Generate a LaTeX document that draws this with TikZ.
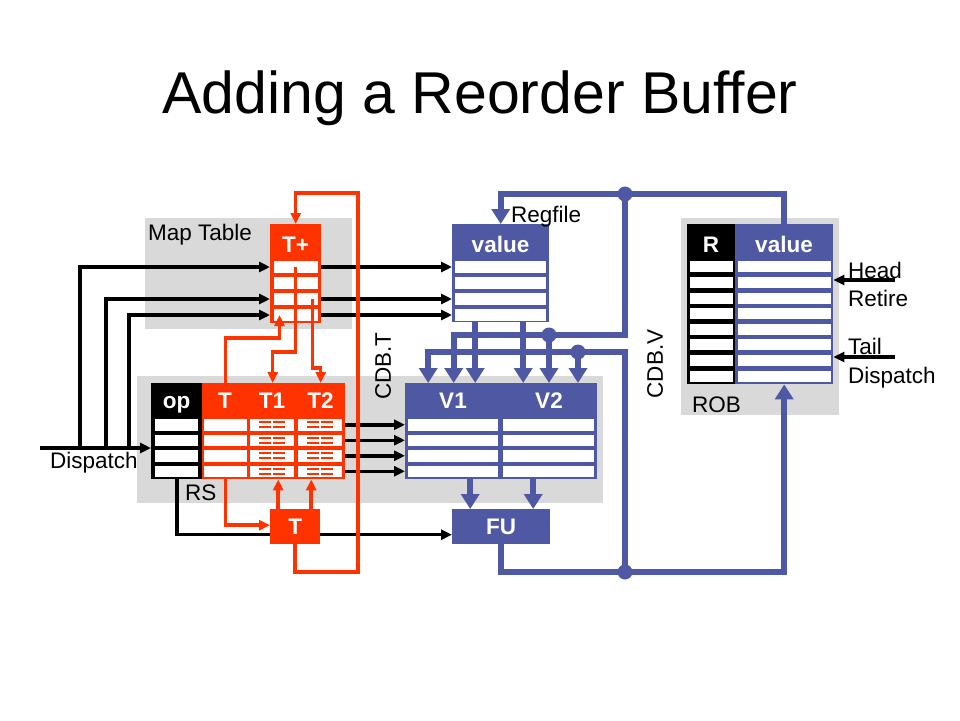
\documentclass[tikz,border=0pt]{standalone}
\usepackage{fontspec}
\setmainfont{Liberation Sans}
\usetikzlibrary{positioning,arrows.meta}

\definecolor{bggray}{RGB}{217,217,217}
\definecolor{cdbred}{RGB}{255,51,0}
\definecolor{cdbblue}{RGB}{79,89,163}

\begin{document}
\begin{tikzpicture}[
  x=1pt, y=-1pt,
  bgbox/.style={fill=bggray, inner sep=0pt, anchor=north west},
  tbl/.style={inner sep=0pt, anchor=north west, text=white, font=\fontsize{22.5}{24}\selectfont\bfseries},
  cell/.style={fill=white, inner sep=0pt, minimum height=11.5pt},
  hdr/.style={text=white, anchor=base, inner sep=0pt, font=\fontsize{22.5}{24}\selectfont\bfseries},
  lbl/.style={inner sep=0pt, anchor=base west, font=\fontsize{22.5}{24}\selectfont},
  wire/.style={line width=3.5pt},
  wirearr/.style={wire, -{Triangle[length=11pt,width=10pt]}},
  tagwire/.style={draw=cdbred, line width=3.5pt},
  tagarr/.style={tagwire, -{Triangle[length=11pt,width=10pt]}},
  tagmark/.style={draw=cdbred, line width=2pt, dash pattern=on 12pt off 2pt},
  bus/.style={draw=cdbblue, line width=6pt},
  busarr/.style={bus, -{Triangle[length=15pt,width=18pt]}},
  dot/.style={circle, fill=cdbblue, inner sep=0pt, minimum size=15pt},
]
\useasboundingbox (0,0) rectangle (960,720);

\node[font=\fontsize{59}{70}\selectfont, anchor=base] (title) at (480,113) {Adding a Reorder Buffer};

% grey panels
\node[bgbox, minimum width=207pt, minimum height=111pt] (mtbg) at (145,218) {};
\node[bgbox, minimum width=466pt, minimum height=127pt] (rsbg) at (137,376) {};
\node[bgbox, minimum width=158pt, minimum height=197pt] (robbg) at (681,218) {};

% map table
\node[tbl, fill=cdbred, minimum width=51pt, minimum height=99pt] (mt) at (270,224) {};
\node[hdr] at (295.5,252) {T+};
\foreach \i in {1,...,4}
  \node[cell, minimum width=44pt] (mt-\i) at (295.5,251+16*\i) {};

% regfile
\node[tbl, fill=cdbblue, minimum width=97pt, minimum height=98pt] (rf) at (452,224) {};
\node[hdr] at (500.5,252) {value};
\foreach \i in {1,...,4}
  \node[cell, minimum width=91pt] (rf-\i) at (500.5,251+16*\i) {};

% reservation stations
\node[tbl, fill=black, minimum width=52pt, minimum height=96pt] (rsop) at (151,383) {};
\node[tbl, fill=cdbred, minimum width=47pt, minimum height=96pt] (rstag) at (202,383) {};
\node[tbl, fill=cdbred, minimum width=49pt, minimum height=96pt] (rsta) at (248,383) {};
\node[tbl, fill=cdbred, minimum width=49pt, minimum height=96pt] (rstb) at (296,383) {};
\node[hdr] at (176.5,408.5) {op};
\node[hdr] at (225,408.5) {T};
\node[hdr] at (272,408.5) {T1};
\node[hdr] at (320.5,408.5) {T2};
\node[tbl, fill=cdbblue, minimum width=97pt, minimum height=96pt] (vv1) at (405,383) {};
\node[tbl, fill=cdbblue, minimum width=96pt, minimum height=96pt] (vv2) at (501,383) {};
\node[hdr] at (453,408.5) {V1};
\node[hdr] at (549,408.5) {V2};
\foreach \i in {1,...,4} {
  \node[cell, minimum width=43pt] (rsop-\i) at (176.5,409.25+15.5*\i) {};
  \node[cell, minimum width=43pt] (rstag-\i) at (225,409.25+15.5*\i) {};
  \node[cell, minimum width=44pt] (rsta-\i) at (271.5,409.25+15.5*\i) {};
  \node[cell, minimum width=44pt] (rstb-\i) at (320,409.25+15.5*\i) {};
  \node[cell, minimum width=90pt] (vv1-\i) at (453,409.25+15.5*\i) {};
  \node[cell, minimum width=91pt] (vv2-\i) at (548.5,409.25+15.5*\i) {};
}
\foreach \c in {rsta,rstb}
  \foreach \i in {1,...,4} {
    \draw[tagmark] ([xshift=-13pt,yshift=2.5pt]\c-\i.center) -- ([xshift=13pt,yshift=2.5pt]\c-\i.center);
    \draw[tagmark] ([xshift=-13pt,yshift=-2.5pt]\c-\i.center) -- ([xshift=13pt,yshift=-2.5pt]\c-\i.center);
  }

% ROB
\node[tbl, fill=black, minimum width=49pt, minimum height=160pt] (robr) at (687,224) {};
\node[tbl, fill=cdbblue, minimum width=98pt, minimum height=160pt] (robv) at (735,224) {};
\node[hdr] at (711,252) {R};
\node[hdr] at (784,252) {value};
\foreach \i in {1,...,8} {
  \node[cell, minimum width=43pt, minimum height=11pt] (robr-\i) at (711,251.2+15.625*\i) {};
  \node[cell, minimum width=93pt, minimum height=11pt] (robv-\i) at (784,251.2+15.625*\i) {};
}

% tag unit and FU
\node[tbl, fill=cdbred, minimum width=50pt, minimum height=35pt] (tagbox) at (270,509) {T};
\node[tbl, fill=cdbblue, minimum width=98pt, minimum height=35pt] (fu) at (452,509) {FU};

% dispatch wires
\coordinate (dispin) at (40,448);
\coordinate (dspa) at (80,448);
\coordinate (dspb) at (106,448);
\coordinate (dspc) at (129,448);
\draw[wirearr] (dispin) -- (rsop.west |- dispin);
\draw[wirearr] (dspa) |- (mt.west |- mt-1);
\draw[wirearr] (dspb) |- (mt.west |- mt-3);
\draw[wirearr] (dspc) |- (mt.west |- mt-4);
\foreach \i in {1,3,4}
  \draw[wirearr] (mt.east |- mt-\i) -- (rf.west |- mt-\i);
\foreach \i in {1,...,4}
  \draw[wirearr] (rstb.east |- rstb-\i) -- (vv1.west |- rstb-\i);
\draw[wire] (rsop.south) |- ([yshift=-8pt]tagbox.west);
\draw[wirearr] ([yshift=-8pt]tagbox.east) -- ([yshift=-8pt]fu.west);
\coordinate (headin) at (895,280);
\coordinate (tailin) at (895,357);
\draw[wirearr] (headin) -- (robv.east |- headin);
\draw[wirearr] (tailin) -- (robv.east |- tailin);

% CDB.T
\coordinate (cdbtlo) at (358,572);
\coordinate (cdbthi) at (358,193);
\draw[tagarr] (mt-1.center) -- ++(0,85) -| (rsta.north);
\draw[tagarr] ([xshift=17pt]mt-3.center) -- ++(0,69) -| (rstb.north);
\draw[tagarr] (rstag.north) -- ++(0,-45) -| ([xshift=-16pt]mt-4.center);
\draw[tagarr] (rstag.south) |- ([yshift=1.5pt]tagbox.west);
\draw[tagarr] ([xshift=-17pt]tagbox.north) -- ([xshift=-17pt]tagbox.north |- rsta.south);
\draw[tagarr] ([xshift=16pt]tagbox.north) -- ([xshift=16pt]tagbox.north |- rstb.south);
\draw[tagarr] (tagbox.south) |- (cdbtlo) -- (cdbthi) -| (mt.north);

% CDB.V and value paths
\coordinate (cdbvhi) at (625,194);
\coordinate (cdbvlo) at (625,572);
\coordinate (roba) at (549,335);
\coordinate (cdba) at (578,352);
\draw[busarr] (robv.north) -- ++(0,-30) -| (rf.north);
\draw[busarr] (cdbvhi) |- (roba) -| (vv1.north);
\draw[busarr] (roba) -- (roba |- vv2.north);
\draw[busarr] (cdbvlo) |- (cdba) -| ([xshift=-25.5pt]vv1.north);
\draw[busarr] (cdba) -- (cdba |- vv2.north);
\draw[busarr] ([xshift=-25.5pt]rf.south) -- ([xshift=-25.5pt]rf.south |- vv1.north);
\draw[busarr] ([xshift=22.5pt]rf.south) -- ([xshift=22.5pt]rf.south |- vv2.north);
\draw[busarr] ([xshift=16.5pt]vv1.south) -- ([xshift=16.5pt]vv1.south |- fu.north);
\draw[busarr] ([xshift=-16pt]vv2.south) -- ([xshift=-16pt]vv2.south |- fu.north);
\draw[busarr] (fu.south) |- (cdbvlo) -| (robv.south);
\node[dot] (dothi) at (cdbvhi) {};
\node[dot] (dotlo) at (cdbvlo) {};
\node[dot] (dota) at (roba) {};
\node[dot] (dotb) at (cdba) {};

% labels
\node[lbl] (mtlbl) at (148,240) {Map Table};
\node[lbl] (rflbl) at (511,222) {Regfile};
\node[lbl] (rslbl) at (185,500) {RS};
\node[lbl] (roblbl) at (692,412) {ROB};
\node[lbl] (displbl) at (50,468) {Dispatch};
\node[lbl] (headlbl) at (848,278) {Head};
\node[lbl] (retlbl) at (848,306) {Retire};
\node[lbl] (taillbl) at (848,354) {Tail};
\node[lbl] (rdisplbl) at (848,383) {Dispatch};
\node[lbl, rotate=90, anchor=center] (cdbtlbl) at (383,366) {CDB.T};
\node[lbl, rotate=90, anchor=center] (cdbvlbl) at (655,364) {CDB.V};
\end{tikzpicture}
\end{document}
